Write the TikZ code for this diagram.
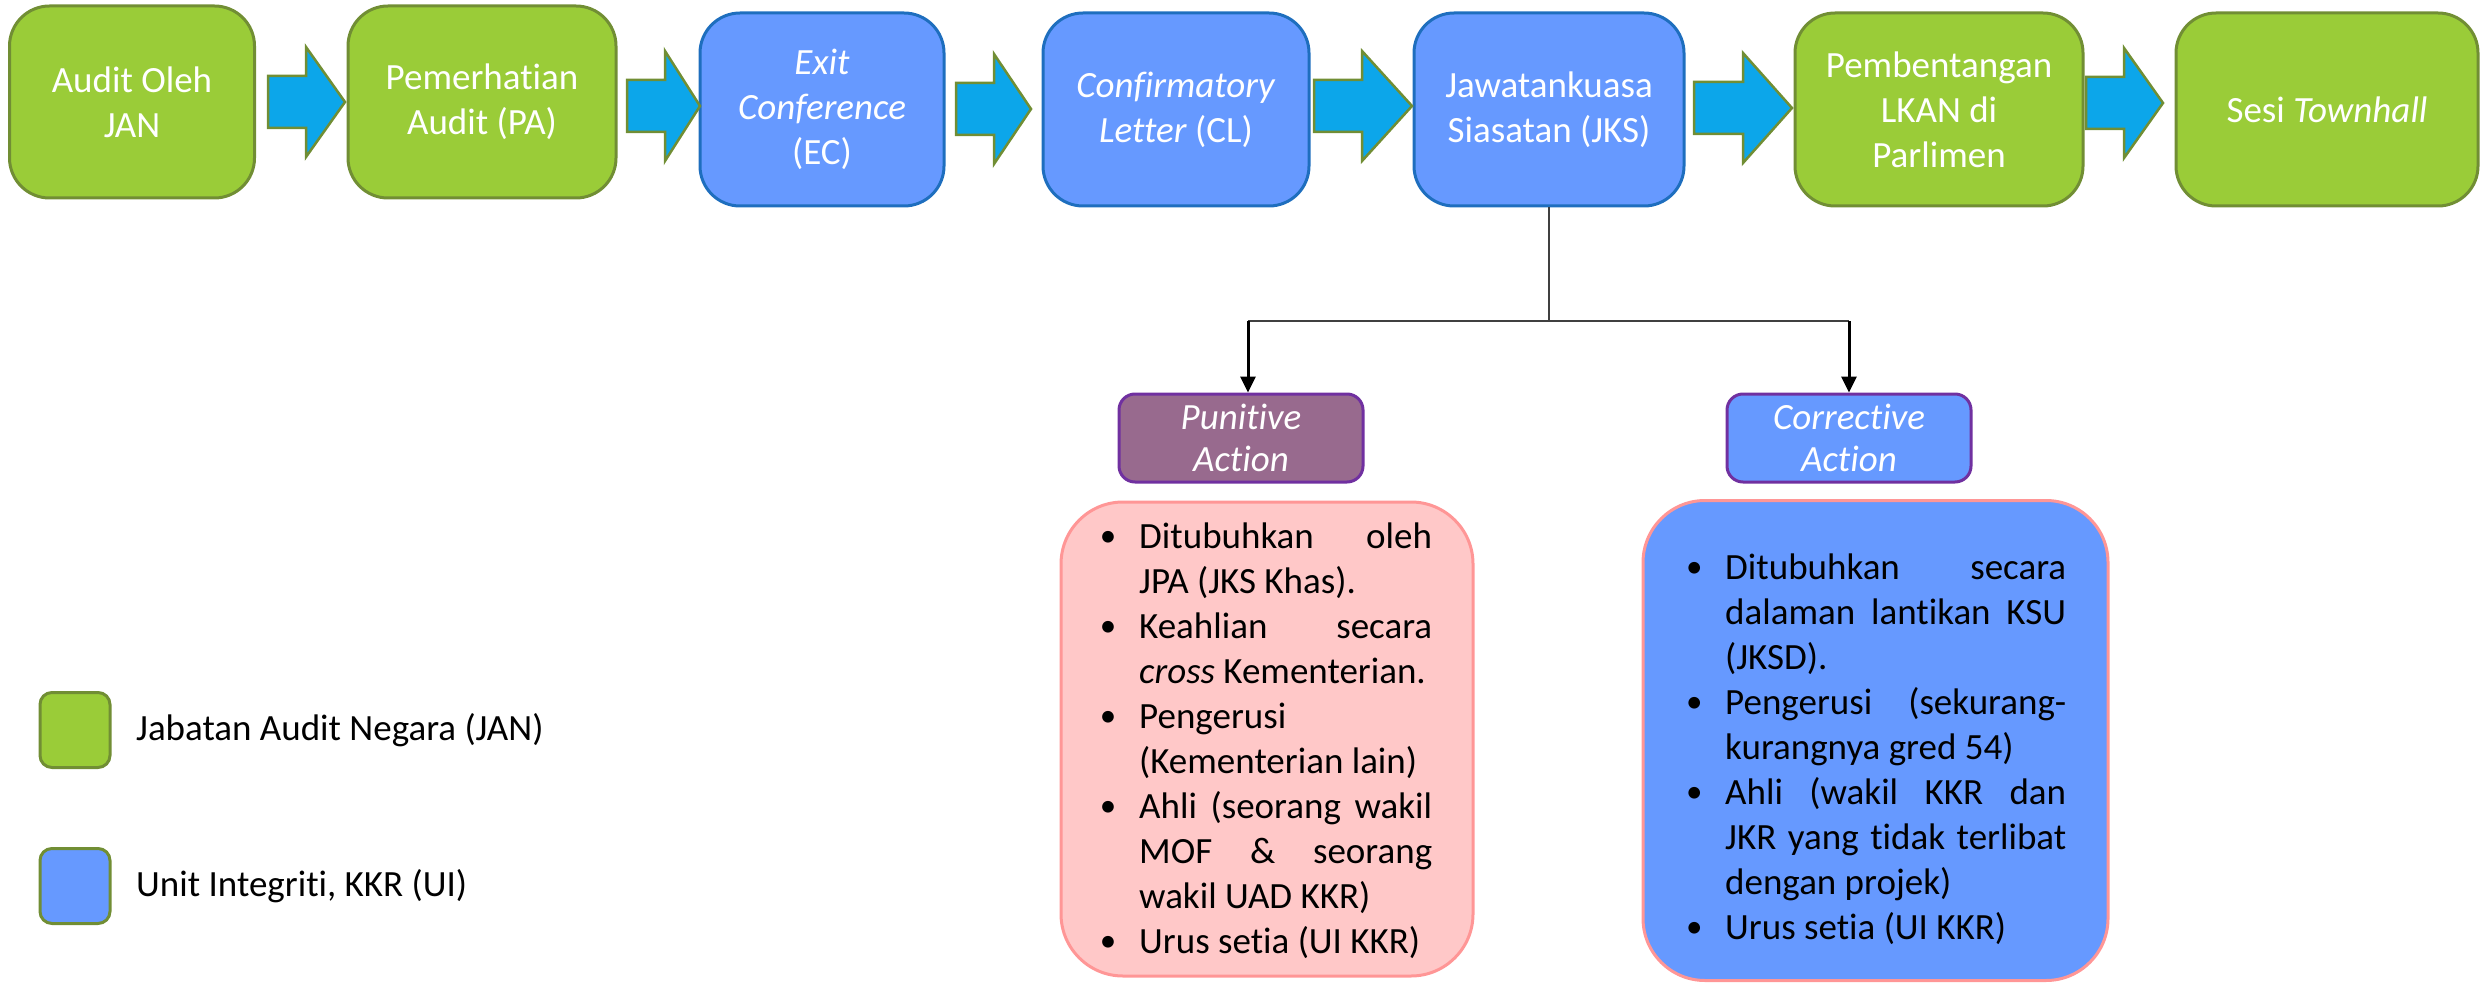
\documentclass[tikz,border=0pt]{standalone}
\usepackage{fontspec}
\setmainfont{Carlito}[Ligatures=NoCommon]
\usetikzlibrary{arrows.meta}
\definecolor{gfill}{RGB}{154,204,56}
\definecolor{gline}{RGB}{113,142,52}
\definecolor{bfill}{RGB}{102,153,255}
\definecolor{bline}{RGB}{30,110,190}
\definecolor{afill}{RGB}{12,166,234}
\definecolor{pfill}{RGB}{152,106,142}
\definecolor{pline}{RGB}{112,48,160}
\definecolor{kfill}{RGB}{255,200,200}
\definecolor{kline}{RGB}{255,150,150}
\definecolor{cline}{RGB}{64,64,64}
\newcommand{\blockarrow}[4]{% x-start, x-headstart, x-tip, y-center
  \draw[barrow] (#1,#4-26) -- (#2,#4-26) -- (#2,#4-55) -- (#3,#4) -- (#2,#4+55) -- (#2,#4+26) -- (#1,#4+26) -- cycle;}
\newcommand{\smallbullet}{\raisebox{1.5pt}{\fontsize{33}{33}\selectfont\textbullet}}
\newcommand{\bitem}{\par\hangindent=45pt\hangafter=1\noindent\hspace*{14pt}\makebox[0pt][c]{\smallbullet}\hspace*{31pt}\ignorespaces}
\newenvironment{bulletbox}[1]{\begin{minipage}[t]{#1}\fontsize{37}{45}\selectfont\parskip=0pt\parindent=0pt}{\par\end{minipage}}
\begin{document}
\begin{tikzpicture}[x=1pt,y=-1pt,
  txt/.style={font=\fontsize{37}{45}\selectfont},
  topbox/.style={txt,rounded corners=40pt,line width=3pt,text=white,align=center,inner sep=0pt,minimum height=193pt},
  gbox/.style={topbox,fill=gfill,draw=gline},
  bbox/.style={topbox,fill=bfill,draw=bline},
  actbox/.style={font=\fontsize{37}{42}\selectfont\itshape,rounded corners=16pt,line width=3pt,draw=pline,text=white,align=center,inner sep=0pt,minimum width=244pt,minimum height=88pt},
  bigbox/.style={rounded corners=62pt,line width=3pt,draw=kline,inner sep=0pt},
  bultext/.style={anchor=base west,inner sep=0pt,text=black},
  legbox/.style={rounded corners=12pt,line width=3pt,draw=gline,minimum width=70pt,minimum height=75pt,inner sep=0pt},
  legtxt/.style={txt,anchor=west,inner sep=0pt},
  barrow/.style={fill=afill,draw=gline,line width=2.5pt,line join=miter},
  conn/.style={draw=cline,line width=2.5pt},
  downarrow/.style={draw=black,line width=3pt,-{Triangle[length=16pt,width=15pt]}}
]
\useasboundingbox (0,0) rectangle (2481,987);

% top row
\node[gbox,minimum width=245pt,minimum height=192pt] (b1) at (132,102) {Audit Oleh\\JAN};
\node[gbox,minimum width=268pt,minimum height=192pt] (b2) at (482,102) {Pemerhatian\\Audit (PA)};
\node[bbox,minimum width=244pt] (b3) at (822,109.5) {\textit{Exit}\\\textit{Conference}\\(EC)};
\node[bbox,minimum width=266pt] (b4) at (1176,109.5) {\textit{Confirmatory}\\\textit{Letter} (CL)};
\node[bbox,minimum width=270pt] (b5) at (1549,109.5) {Jawatankuasa\\Siasatan (JKS)};
\node[gbox,minimum width=288pt] (b6) at (1939,109.5) {Pembentangan\\LKAN di\\Parlimen};
\node[gbox,minimum width=302pt] (b7) at (2327,109.5) {Sesi \textit{Townhall}};

% block arrows
\blockarrow{268}{306}{345}{102}
\blockarrow{627}{665}{700}{106}
\blockarrow{956}{994}{1031}{109}
\blockarrow{1314}{1362}{1412}{106}
\blockarrow{1694}{1743}{1792}{108}
\blockarrow{2086}{2124}{2163}{103}

% action boxes
\node[actbox,fill=pfill] (pun) at (1241,438) {Punitive\\Action};
\node[actbox,fill=bfill] (cor) at (1849,438) {Corrective\\Action};

% connectors
\coordinate (split) at (1549,321);
\coordinate (lft) at (1248,321);
\coordinate (rgt) at (1849,321);
\draw[conn] (b5.south) -- (split);
\draw[conn] (lft) -- (rgt);
\draw[downarrow] (lft) -- (lft |- pun.north);
\draw[downarrow] (rgt) -- (rgt |- cor.north);

% detail boxes
\node[bigbox,fill=kfill,minimum width=412pt,minimum height=474pt] (pk) at (1267,739) {};
\node[bigbox,fill=bfill,minimum width=465pt,minimum height=480pt] (bk) at (1875.5,740.5) {};

\node[bultext] (pktext) at (1094,548) {\begin{bulletbox}{338pt}
\bitem Ditubuhkan oleh\linebreak JPA (JKS Khas).
\bitem Keahlian secara\linebreak \textit{cross} Kementerian.
\bitem Pengerusi\newline (Kementerian lain)
\bitem Ahli (seorang wakil\linebreak MOF \& seorang\linebreak wakil UAD KKR)
\bitem Urus setia (UI KKR)
\end{bulletbox}};

\node[bultext] (bktext) at (1680,579) {\begin{bulletbox}{386pt}
\bitem Ditubuhkan secara\linebreak dalaman lantikan KSU\linebreak (JKSD).
\bitem Pengerusi (sekurang-\linebreak kurangnya gred 54)
\bitem Ahli (wakil KKR dan\linebreak JKR yang tidak terlibat\linebreak dengan projek)
\bitem Urus setia (UI KKR)
\end{bulletbox}};

% legend
\node[legbox,fill=gfill] (lg1) at (75,730) {};
\node[legbox,fill=bfill] (lg2) at (75,886) {};
\node[legtxt] (lt1) at (136,730) {Jabatan Audit Negara (JAN)};
\node[legtxt] (lt2) at (136,886) {Unit Integriti, KKR (UI)};
\end{tikzpicture}
\end{document}
